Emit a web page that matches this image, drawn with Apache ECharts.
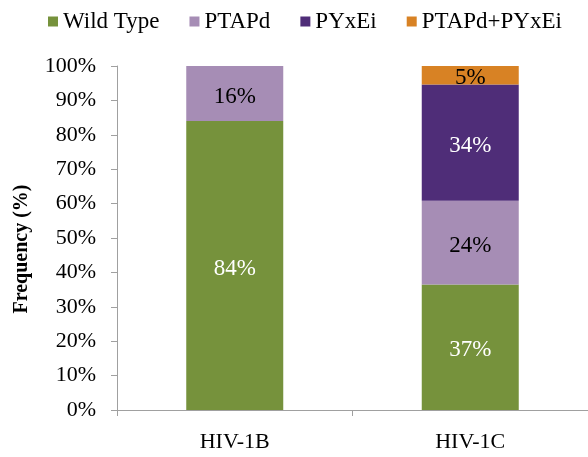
<!DOCTYPE html>
<html><head><meta charset="utf-8">
<script src="https://cdn.jsdelivr.net/npm/echarts@6/dist/echarts.min.js"></script>
<style>html,body{margin:0;padding:0;background:#fff}#c{width:588px;height:457px}</style>
</head><body><div id="c"></div>
<script>
const categories = ['HIV-1B', 'HIV-1C'];
const wildType = [84, 36.5];
const ptapd = [16, 24.3];
const pyxei = [0, 33.8];
const both = [0, 5.4];
const yTicks = [0,10,20,30,40,50,60,70,80,90,100];

const FONT = 'Liberation Serif';
function mk(name, data, color, labelColor) {
  return {
    name, type: 'bar', stack: 'a', data, barWidth: 97,
    itemStyle: { color },
    label: {
      show: true, position: 'inside', color: labelColor, offset: [0, 3],
      fontFamily: FONT, fontSize: 23,
      formatter: p => p.value > 0 ? Math.round(p.value) + '%' : ''
    }
  };
}
const chart = echarts.init(document.getElementById('c'), null, {renderer: 'canvas'});
chart.setOption({
  animation: false,
  legend: {
    top: 5, left: 43, itemWidth: 10, itemHeight: 10, itemGap: 30,
    icon: 'rect',
    textStyle: { fontFamily: FONT, fontSize: 23, color: '#000' },
    data: ['Wild Type', 'PTAPd', 'PYxEi', 'PTAPd+PYxEi']
  },
  grid: { left: 117, top: 66, width: 478, height: 344, containLabel: false },
  xAxis: {
    type: 'category', data: categories,
    axisLine: { lineStyle: { color: '#a0a0a0', width: 1 } },
    axisTick: { show: true, length: 6, lineStyle: { color: '#a0a0a0' } },
    axisLabel: { fontFamily: FONT, fontSize: 22, color: '#000', margin: 21 }
  },
  yAxis: {
    type: 'value', min: 0, max: 100, interval: 10,
    name: 'Frequency (%)', nameLocation: 'middle', nameGap: 85,
    nameTextStyle: { fontFamily: FONT, fontSize: 20, fontWeight: 'bold', color: '#000', padding: [0, 22, 0, 0] },
    axisLine: { show: true, lineStyle: { color: '#a0a0a0', width: 1 } },
    axisTick: { show: true, length: 6, lineStyle: { color: '#a0a0a0' } },
    splitLine: { show: false },
    axisLabel: { fontFamily: FONT, fontSize: 22, color: '#000', margin: 21,
      formatter: v => yTicks.includes(v) ? v + '%' : '' }
  },
  series: [
    mk('Wild Type', wildType, '#76923C', '#fff'),
    mk('PTAPd', ptapd, '#A68DB5', '#000'),
    mk('PYxEi', pyxei, '#4F2D78', '#fff'),
    mk('PTAPd+PYxEi', both, '#D88224', '#000')
  ]
});
</script></body></html>
